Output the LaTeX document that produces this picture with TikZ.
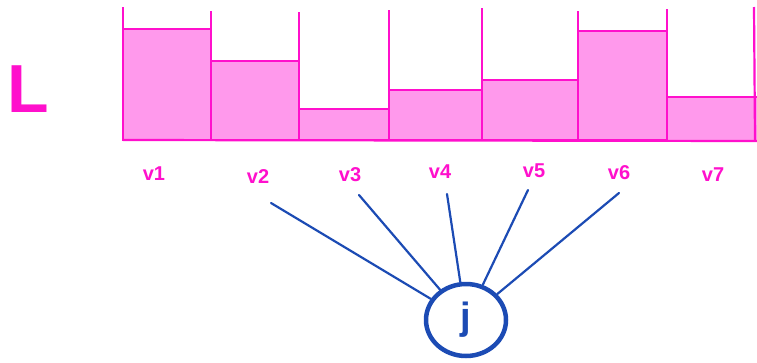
\documentclass[tikz,border=0pt]{standalone}
\usepackage{fontspec}
\setmainfont{Liberation Sans}
\usetikzlibrary{shapes.geometric}
\definecolor{mag}{HTML}{FF10CC}
\definecolor{pinkfill}{HTML}{FF99EC}
\definecolor{inkblue}{HTML}{1C4BB4}
\tikzset{
  bar/.style={fill=pinkfill, draw=mag, line width=2.2pt},
  post/.style={draw=mag, line width=2.2pt},
  vlabel/.style={text=mag, font=\fontsize{20}{20}\selectfont\bfseries, inner sep=0pt},
  link/.style={draw=inkblue, line width=2.2pt, line cap=round},
}
\begin{document}
\begin{tikzpicture}[x=1pt, y=-1pt]
\useasboundingbox (0,0) rectangle (757,362);
% bars of the histogram
\draw[bar] (123,140) rectangle (211,29);
\draw[bar] (211,140) rectangle (299,61);
\draw[bar] (299,140) rectangle (389,109);
\draw[bar] (389,140) rectangle (482,90);
\draw[bar] (482,140) rectangle (578,80);
\draw[bar] (578,140) rectangle (667,31);
\fill[pinkfill] (667,140) rectangle (757,97);
\draw[post] (667,97) -- (757,97);
\draw[post] (123,140) -- (757,141);
% vertical separators
\draw[post] (123,140) -- (123,7);
\draw[post] (211,140) -- (211,11);
\draw[post] (299,140) -- (299,12);
\draw[post] (389,140) -- (389,10);
\draw[post] (482,140) -- (482,8);
\draw[post] (578,140) -- (578,11);
\draw[post] (667,140) -- (667,9);
\draw[post] (755,140) -- (754,7);
% axis name
\node[text=mag, font=\fontsize{68}{68}\selectfont\bfseries, inner sep=0pt] (L) at (28,89) {L};
% labels under the bars
\node[vlabel] (v1) at (154,174) {v1};
\node[vlabel] (v2) at (258,177) {v2};
\node[vlabel] (v3) at (350,175) {v3};
\node[vlabel] (v4) at (440,172) {v4};
\node[vlabel] (v5) at (534,171) {v5};
\node[vlabel] (v6) at (619,173) {v6};
\node[vlabel] (v7) at (713,175) {v7};
% the j node
\node[ellipse, draw=inkblue, line width=4.5pt, minimum width=80pt, minimum height=72pt,
      text=inkblue, font=\fontsize{38}{38}\selectfont\bfseries, inner sep=0pt] (j) at (466,320) {j};
% line starts
\coordinate (s2) at (271,203);
\coordinate (s3) at (359,195);
\coordinate (s4) at (447,194);
\coordinate (s5) at (528,190);
\coordinate (s6) at (619,193);
\draw[link] (s2) -- (j);
\draw[link] (s3) -- (j);
\draw[link] (s4) -- (j);
\draw[link] (s5) -- (j);
\draw[link] (s6) -- (j);
\end{tikzpicture}
\end{document}
